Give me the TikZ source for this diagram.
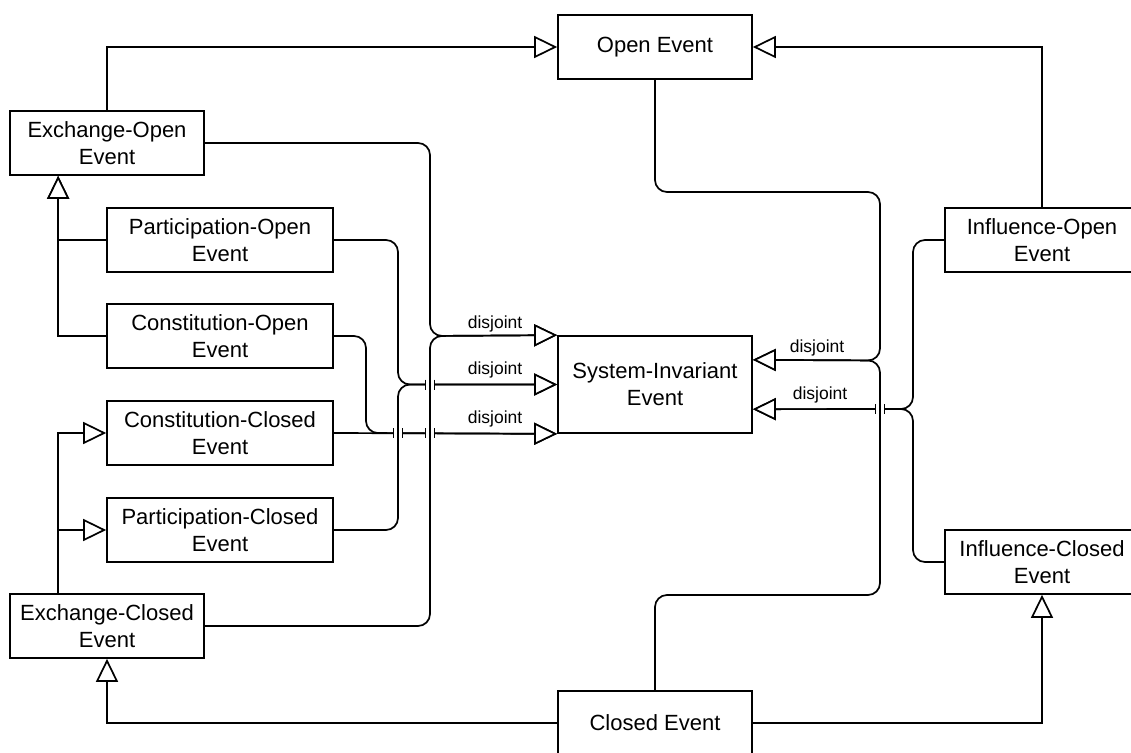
\documentclass[tikz,border=0pt]{standalone}
\usepackage{fontspec}
\setmainfont{Liberation Sans}
\usetikzlibrary{arrows.meta,calc}

% white break with end ticks where one connector jumps over another
\newcommand\crossgap[2]{%
  \fill[white] (#1-5,#2-2.5) rectangle (#1+5,#2+2.5);
  \draw[line width=1.3pt] (#1-4.5,#2-5) -- (#1-4.5,#2+5) (#1+4.5,#2-5) -- (#1+4.5,#2+5);}

\begin{document}
\begin{tikzpicture}[x=1pt,y=-1pt,line width=1.7pt,
  box/.style={draw,rectangle,inner sep=0pt,minimum height=64pt,align=center,
    font=\fontsize{22}{27}\selectfont},
  narrowbox/.style={box,minimum width=194pt},
  widebox/.style={box,minimum width=226pt},
  gen/.style={-{Triangle[length=23pt,width=22pt,fill=white]}},
  link/.style={rounded corners=12pt},
  lbl/.style={font=\fontsize{17.5}{20}\selectfont,inner sep=0pt}]

\useasboundingbox (0,0) rectangle (1131,752);
\clip (0,0) rectangle (1131,752);

% classes
\node[narrowbox] (OE) at (655,47)  {Open Event};
\node[narrowbox] (EO) at (107,143) {Exchange-Open\\Event};
\node[widebox]   (PO) at (220,240) {Participation-Open\\Event};
\node[widebox]   (CO) at (220,336) {Constitution-Open\\Event};
\node[widebox]   (CC) at (220,433) {Constitution-Closed\\Event};
\node[widebox]   (PC) at (220,530) {Participation-Closed\\Event};
\node[narrowbox] (EC) at (107,626) {Exchange-Closed\\Event};
\node[narrowbox,minimum height=97pt] (SI) at (655,384.5) {System-Invariant\\Event};
\node[narrowbox] (IO) at (1042,240) {Influence-Open\\Event};
\node[narrowbox] (IC) at (1042,562) {Influence-Closed\\Event};
\node[narrowbox] (CE) at (655,723) {Closed Event};

\coordinate (siR1) at ($(SI.north east)!0.25!(SI.south east)$);
\coordinate (siR2) at ($(SI.north east)!0.75!(SI.south east)$);
\coordinate (eoIn) at ([xshift=49pt]EO.south west);
\coordinate (ecOut) at ([xshift=49pt]EC.north west);

% generalisations
\draw[gen] (EO.north) |- (OE.west);
\draw[gen] (IO.north) |- (OE.east);
\draw[gen] (PO.west) -| (eoIn);
\draw[gen] (CO.west) -| (eoIn);
\draw[gen] (ecOut) |- (CC.west);
\draw[gen] (ecOut) |- (PC.west);
\draw[gen] (CE.west) -| (EC.south);
\draw[gen] (CE.east) -| (IC.south);

% disjoint sets, left side
\draw[link,gen] (CO.east) -- (366,336) -- (366,433) -- (SI.south west);
\draw[gen] (CC.east) -- (SI.south west);
\crossgap{398}{433}
\crossgap{430}{433}
\draw[link,gen] (PO.east) -- (398,240) -- (398,384.5) -- (SI.west);
\draw[link,gen] (PC.east) -- (398,530) -- (398,384.5) -- (SI.west);
\crossgap{430}{384.5}
\draw[link,gen] (EO.east) -- (430,143) -- (430,336) -- (SI.north west);
\draw[link,gen] (EC.east) -- (430,626) -- (430,336) -- (SI.north west);

\node[lbl] (d1) at (495,324) {disjoint};
\node[lbl] (d2) at (495,370) {disjoint};
\node[lbl] (d3) at (495,418.5) {disjoint};

% disjoint sets, right side
\draw[link,gen] (IO.west) -- (913,240) -- (913,409) -- (siR2);
\draw[link,gen] (IC.west) -- (913,562) -- (913,409) -- (siR2);
\crossgap{880}{409}
\draw[link,gen] (OE.south) -- (655,192) -- (880,192) -- (880,360.5) -- (siR1);
\draw[link,gen] (CE.north) -- (655,595) -- (880,595) -- (880,360.5) -- (siR1);

\node[lbl] (d4) at (817,347.5) {disjoint};
\node[lbl] (d5) at (820,395) {disjoint};
\end{tikzpicture}
\end{document}
